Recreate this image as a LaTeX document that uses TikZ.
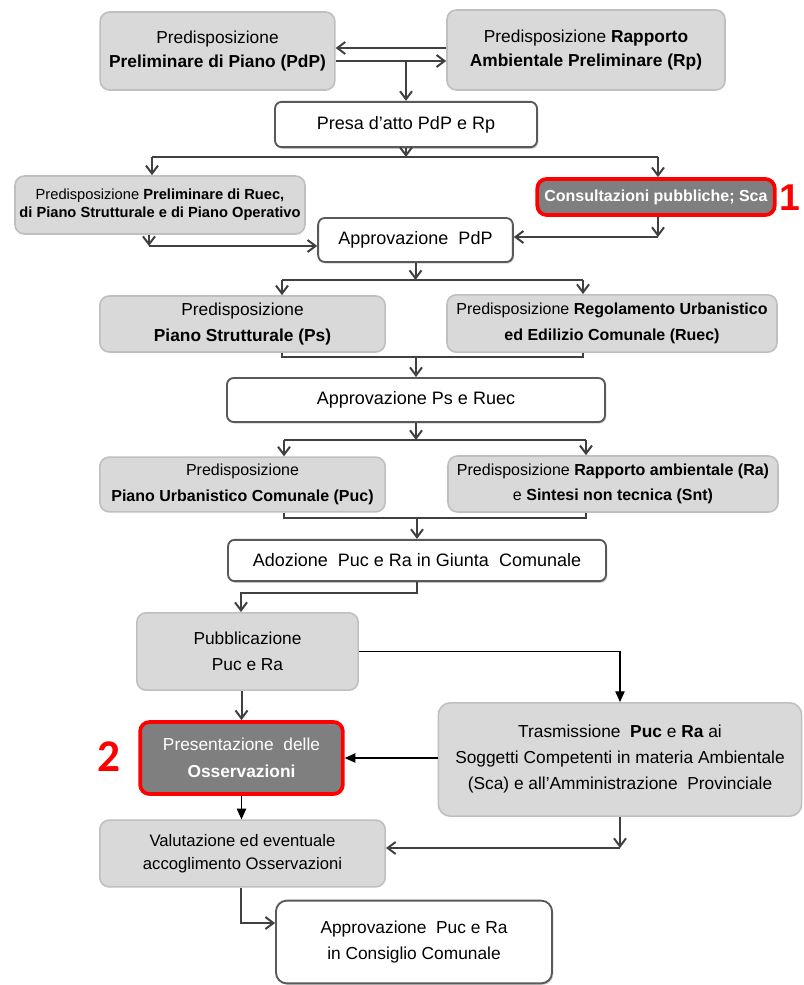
\documentclass[tikz,border=0pt]{standalone}
\usepackage{fontspec}
\setmainfont{Liberation Sans}
\newfontfamily\markfont{Carlito}
\usetikzlibrary{arrows.meta}
\usetikzlibrary{shadows}

\definecolor{boxgray}{HTML}{D9D9D9}
\definecolor{boxedge}{HTML}{BFBFBF}
\definecolor{darkbox}{HTML}{7F7F7F}
\definecolor{whiteedge}{HTML}{595959}
\definecolor{lineclr}{HTML}{404040}
\definecolor{redmark}{HTML}{FF0000}

\begin{document}
\begin{tikzpicture}[x=0.75pt, y=-0.75pt,
  graybox/.style={draw=boxedge, fill=boxgray, line width=1.2pt, rounded corners=7pt,
    align=center, inner sep=0pt, font=\fontsize{13}{18}\selectfont},
  whitebox/.style={draw=whiteedge, fill=white, line width=1.4pt, rounded corners=5pt,
    align=center, inner sep=0pt, font=\fontsize{13.5}{19}\selectfont,
    drop shadow={shadow xshift=1pt, shadow yshift=-1.2pt, fill=black!35}},
  redbox/.style={draw=redmark, fill=darkbox, line width=2.8pt, rounded corners=7pt,
    align=center, inner sep=0pt, text=white},
  flow/.style={draw=lineclr, line width=1.5pt, -{Straight Barb[length=6pt,width=9pt]}},
  link/.style={draw=lineclr, line width=1.5pt},
  fine/.style={draw=black, line width=0.9pt, -{Triangle[length=8pt,width=7pt]}}]

\useasboundingbox (0,0) rectangle (803,985);

% first level
\node[graybox, minimum width=176pt, minimum height=58.5pt] (pdp) at (217.5,51)
  {Predisposizione\\\textbf{Preliminare di Piano (PdP)}};
\node[graybox, minimum width=208.5pt, minimum height=60pt] (rp) at (586,50)
  {Predisposizione \textbf{Rapporto}\\\textbf{Ambientale Preliminare (Rp)}};
\node[whitebox, minimum width=196.5pt, minimum height=34pt] (presa) at (406,124.5)
  {Presa d’atto PdP e Rp};

\node[graybox, minimum width=217.5pt, minimum height=43.5pt, font=\fontsize{11}{13.5}\selectfont] (prelruec) at (160,205)
  {Predisposizione \textbf{Preliminare di Ruec,}\\\textbf{di Piano Strutturale e di Piano Operativo}};
\node[redbox, minimum width=178pt, minimum height=27pt, font=\fontsize{12}{14}\selectfont] (cons) at (656,197)
  {\textbf{Consultazioni pubbliche; Sca}};
\node[text=redmark, font=\bfseries\fontsize{28}{28}\selectfont, anchor=east, inner sep=0pt] (mark1) at (801,198) {1};
\node[whitebox, minimum width=146pt, minimum height=33pt] (apprpdp) at (415.5,240)
  {Approvazione\ \ PdP};

% Ps and Ruec
\node[graybox, minimum width=214pt, minimum height=42pt, font=\fontsize{13}{19}\selectfont] (ps) at (242.5,324)
  {Predisposizione\\\textbf{Piano Strutturale (Ps)}};
\node[graybox, minimum width=247.5pt, minimum height=43pt, font=\fontsize{12}{19}\selectfont] (ruec) at (612,323.5)
  {Predisposizione \textbf{Regolamento Urbanistico}\\\textbf{ed Edilizio Comunale (Ruec)}};
\node[whitebox, minimum width=283.5pt, minimum height=33pt] (apprps) at (416,400)
  {Approvazione Ps e Ruec};

% Puc and Ra
\node[graybox, minimum width=214pt, minimum height=41pt, font=\fontsize{12}{19}\selectfont] (puc) at (242.5,484.5)
  {Predisposizione\\\textbf{Piano Urbanistico Comunale (Puc)}};
\node[graybox, minimum width=247.5pt, minimum height=42pt, font=\fontsize{12}{19}\selectfont] (ra) at (613,484)
  {Predisposizione \textbf{Rapporto ambientale (Ra)}\\e \textbf{Sintesi non tecnica (Snt)}};
\node[whitebox, minimum width=283.5pt, minimum height=31pt] (adoz) at (417,560.5)
  {Adozione\ \ Puc e Ra in Giunta\ \ Comunale};

% publication and observations
\node[graybox, minimum width=166pt, minimum height=58pt, font=\fontsize{13}{19.5}\selectfont] (pubb) at (247.5,651.5)
  {Pubblicazione\\Puc e Ra};
\node[redbox, minimum width=152pt, minimum height=54pt, font=\fontsize{13}{20}\selectfont] (pres) at (241.5,758)
  {Presentazione\ \ delle\\\textbf{Osservazioni}};
\node[text=redmark, font=\markfont\bfseries\fontsize{34}{34}\selectfont, inner sep=0pt] (mark2) at (109,757) {2};
\node[graybox, minimum width=272.5pt, minimum height=85pt, rounded corners=9pt, font=\fontsize{13}{19.5}\selectfont] (trasm) at (620,759.5)
  {Trasmissione\ \ \textbf{Puc} e \textbf{Ra} ai\\Soggetti\ Competenti\ in\ materia\ Ambientale\\(Sca) e all’Amministrazione\ \ Provinciale};
\node[graybox, minimum width=214pt, minimum height=50pt, font=\fontsize{12.5}{17}\selectfont] (valut) at (242.5,853.5)
  {Valutazione ed eventuale\\accoglimento Osservazioni};
\node[whitebox, minimum width=207pt, minimum height=62pt, rounded corners=8pt, font=\fontsize{13}{20}\selectfont] (apprpuc) at (414,942)
  {Approvazione\ \ Puc e Ra\\in Consiglio Comunale};

% connectors, top
\coordinate (s1) at (406,61);
\draw[flow] (rp.west |- 0,48) -- (pdp.east |- 0,48);
\draw[flow] (pdp.east |- s1) -- (rp.west |- s1);
\draw[flow] (s1) -- (presa);

\coordinate (b1l) at (152,157);
\coordinate (b1r) at (658,157);
\draw[flow] (presa) -- (presa |- b1l);
\draw[link] (b1l) -- (b1r);
\draw[flow] (b1l) -- (b1l |- prelruec.north);
\draw[flow] (b1r) -- (b1r |- cons.north);

\coordinate (c1) at (149,246);
\draw[flow] (c1 |- prelruec.south) -- (c1);
\draw[flow] (c1) -- (c1 -| apprpdp.west);
\coordinate (c2) at (658,237);
\draw[flow] (c2 |- cons.south) -- (c2);
\draw[flow] (c2) -- (c2 -| apprpdp.east);

% connectors, middle
\coordinate (b2l) at (282,280);
\coordinate (b2r) at (583,280);
\draw[flow] (apprpdp) -- (apprpdp |- b2l);
\draw[link] (b2l) -- (b2r);
\draw[flow] (b2l) -- (b2l |- ps.north);
\draw[flow] (b2r) -- (b2r |- ruec.north);

\coordinate (m1l) at (282,357);
\coordinate (m1r) at (583,357);
\draw[link] (m1l |- ps.south) -- (m1l) -- (m1r) -- (m1r |- ruec.south);
\draw[flow] (apprps |- m1l) -- (apprps);

\coordinate (b3l) at (284,440);
\coordinate (b3r) at (586,440);
\draw[flow] (apprps) -- (apprps |- b3l);
\draw[link] (b3l) -- (b3r);
\draw[flow] (b3l) -- (b3l |- puc.north);
\draw[flow] (b3r) -- (b3r |- ra.north);

\coordinate (m2l) at (284,518);
\coordinate (m2r) at (586,518);
\draw[link] (m2l |- puc.south) -- (m2l) -- (m2r) -- (m2r |- ra.south);
\draw[flow] (adoz |- m2l) -- (adoz);

% connectors, bottom
\coordinate (c3) at (241,593);
\draw[flow] (adoz) |- (c3) -- (c3 |- pubb.north);
\draw[flow] (pres |- pubb.south) -- (pres);
\draw[fine] (pubb) -| (trasm);
\draw[fine] (trasm.west |- pres) -- (pres);
\draw[fine] (pres) -- (pres |- valut.north);

\coordinate (c4) at (620,848);
\draw[flow] (trasm) -- (c4);
\draw[flow] (c4) -- (c4 -| valut.east);
\coordinate (c5) at (241,923);
\draw[flow] (c5 |- valut.south) -- (c5) -- (c5 -| apprpuc.west);

\end{tikzpicture}
\end{document}
